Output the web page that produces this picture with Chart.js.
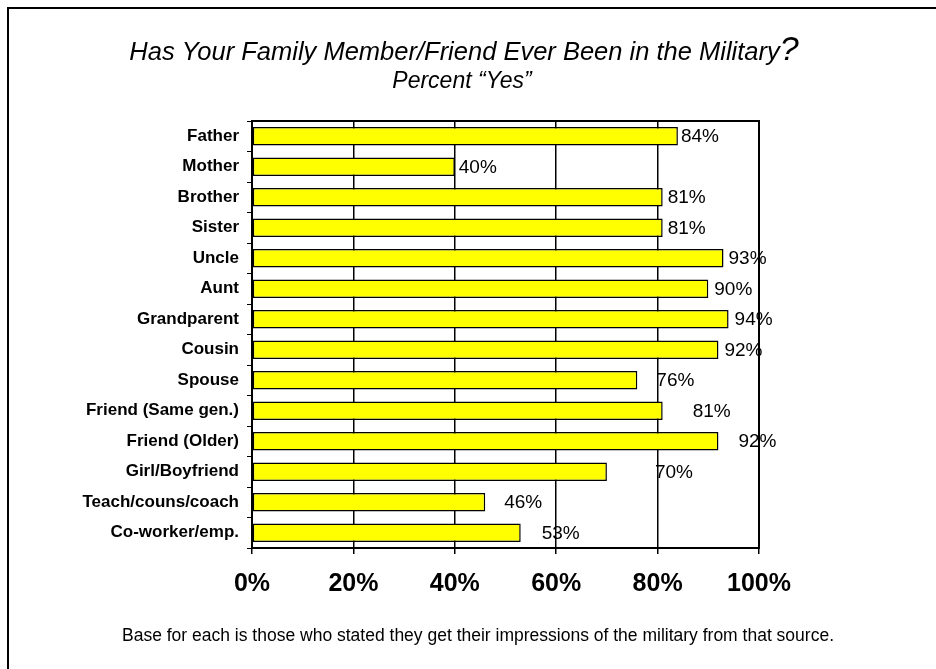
<!DOCTYPE html>
<html>
<head>
<meta charset="utf-8">
<script src="https://cdn.jsdelivr.net/npm/chart.js@4.4.0/dist/chart.umd.min.js"></script>
<style>
    body { margin: 0; background: #ffffff; }
    #graph1 { display: block; }
</style>
</head>
<body>
<canvas id="graph1" width="936" height="669"></canvas>
<script>
let categories = ['Father', 'Mother', 'Brother', 'Sister', 'Uncle', 'Aunt', 'Grandparent', 'Cousin',
    'Spouse', 'Friend (Same gen.)', 'Friend (Older)', 'Girl/Boyfriend', 'Teach/couns/coach', 'Co-worker/emp.'];
let yesValues = [84, 40, 81, 81, 93, 90, 94, 92, 76, 81, 92, 70, 46, 53];
let tickLabels = ['0%', '20%', '40%', '60%', '80%', '100%'];
let titleText = 'Has Your Family Member/Friend Ever Been in the Military';
let subtitleText = 'Percent \u201CYes\u201D';
let footnoteText = 'Base for each is those who stated they get their impressions of the military from that source.';

const FONT = "'Liberation Sans', Arial, sans-serif";

// gap between bar end and its % label, as in the original slide
let labelGap = [3, 4, 5, 5, 5, 6, 6, 6, 19, 30, 20, 48, 19, 21];

let decorPlugin = {
    id: 'decor',
    beforeDraw: function (chart) {
        let ctx = chart.ctx;
        ctx.save();
        ctx.fillStyle = '#ffffff';
        ctx.fillRect(0, 0, chart.width, chart.height);
        ctx.restore();
    },
    afterDatasetsDraw: function (chart) {
        let ctx = chart.ctx;
        let area = chart.chartArea;
        ctx.save();

        // plot frame
        ctx.strokeStyle = '#000000';
        ctx.lineWidth = 2;
        ctx.strokeRect(area.left, area.top, area.right - area.left, area.bottom - area.top);

        // value labels
        let meta = chart.getDatasetMeta(0);
        ctx.fillStyle = '#000000';
        ctx.font = '19px ' + FONT;
        ctx.textAlign = 'left';
        ctx.textBaseline = 'middle';
        meta.data.forEach(function (bar, i) {
            ctx.fillText(yesValues[i] + '%', bar.x + labelGap[i], bar.y + 1);
        });

        // outer slide border (right and bottom edges fall off the picture)
        ctx.lineWidth = 2;
        ctx.strokeRect(8, 8, 960, 700);

        // title with the larger question mark
        ctx.textBaseline = 'alphabetic';
        ctx.font = 'italic 25.5px ' + FONT;
        let w1 = ctx.measureText(titleText).width;
        ctx.font = 'italic 34px ' + FONT;
        let w2 = ctx.measureText('?').width;
        let startX = 464 - (w1 + w2) / 2;
        ctx.font = 'italic 25.5px ' + FONT;
        ctx.fillText(titleText, startX, 60);
        ctx.font = 'italic 34px ' + FONT;
        ctx.fillText('?', startX + w1, 60);

        ctx.textAlign = 'center';
        ctx.font = 'italic 23px ' + FONT;
        ctx.fillText(subtitleText, 462, 88);

        ctx.font = '17.5px ' + FONT;
        ctx.fillText(footnoteText, 478, 641);
        ctx.restore();
    }
};

let ctx = document.getElementById('graph1').getContext('2d');

let data = {
    labels: categories,
    datasets: [{
        label: 'Percent Yes',
        data: yesValues,
        backgroundColor: '#ffff00',
        borderColor: '#000000',
        borderWidth: 1.5,
        borderSkipped: false,
        barPercentage: 0.61,
        categoryPercentage: 1
    }]
};

let options = {
    responsive: false,
    animation: false,
    indexAxis: 'y',
    layout: {
        padding: { top: 121, right: 177, left: 0, bottom: 0 }
    },
    plugins: {
        legend: { display: false },
        title: { display: false },
        tooltip: { enabled: false }
    },
    scales: {
        x: {
            min: 0,
            max: 100,
            afterFit: function (scale) { scale.height = 121; },
            ticks: {
                stepSize: 20,
                padding: 15,
                color: '#000000',
                font: { family: FONT, size: 25, weight: 'bold' },
                callback: function (value) { return tickLabels[value / 20]; }
            },
            grid: {
                color: '#000000',
                lineWidth: 1.5,
                tickLength: 6,
                tickColor: '#000000'
            },
            border: { display: true, color: '#000000', width: 2 }
        },
        y: {
            afterFit: function (scale) { scale.width = 252; },
            ticks: {
                autoSkip: false,
                padding: 8,
                color: '#000000',
                font: { family: FONT, size: 17, weight: 'bold' }
            },
            grid: {
                drawOnChartArea: false,
                color: '#000000',
                lineWidth: 1,
                tickLength: 5
            },
            border: { display: true, color: '#000000', width: 2 }
        }
    }
};

let config = {
    type: 'bar',
    data: data,
    options: options,
    plugins: [decorPlugin]
};

let graph1 = new Chart(ctx, config);
</script>
</body>
</html>
